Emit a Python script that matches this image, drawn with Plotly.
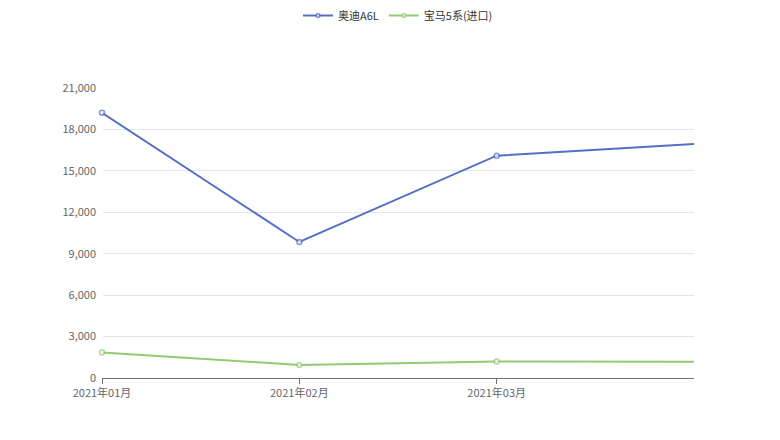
import plotly.graph_objects as go

months = ["2021年01月", "2021年02月", "2021年03月", "2021年04月"]
audi_a6l = [19200, 9850, 16100, 16950]
bmw_5 = [1850, 950, 1200, 1170]

fig = go.Figure()
for name, vals, color in [("奥迪A6L", audi_a6l, "#5470c6"), ("宝马5系(进口)", bmw_5, "#91cc75")]:
    fig.add_trace(go.Scatter(
        x=list(range(len(months))), y=vals, name=name, mode="lines+markers",
        line=dict(color=color, width=2),
        marker=dict(size=[5, 5, 5, 0], color="white", line=dict(color=color, width=1.5)),
        cliponaxis=False,
    ))

fig.update_layout(
    width=780, height=440, plot_bgcolor="white", paper_bgcolor="white",
    margin=dict(l=94, r=94, t=80, b=70, autoexpand=False),
    font=dict(family="Noto Sans CJK SC", size=11, color="#666"),
    legend=dict(orientation="h", x=0.5, xanchor="center", y=1.2, yanchor="bottom",
                font=dict(size=11, color="#333")),
    showlegend=True,
)
fig.update_xaxes(range=[0, 3], tickvals=[0, 1, 2], ticktext=months[:3],
                 showgrid=False, showline=True, linecolor="#6e7079",
                 ticks="outside", ticklen=5, tickcolor="#6e7079", automargin=False)
fig.update_yaxes(range=[0, 21000], dtick=3000, tickformat=",", gridcolor="#e0e6f1",
                 zeroline=False, ticks="", ticksuffix="  ", automargin=False)
fig.write_html("out.html")
